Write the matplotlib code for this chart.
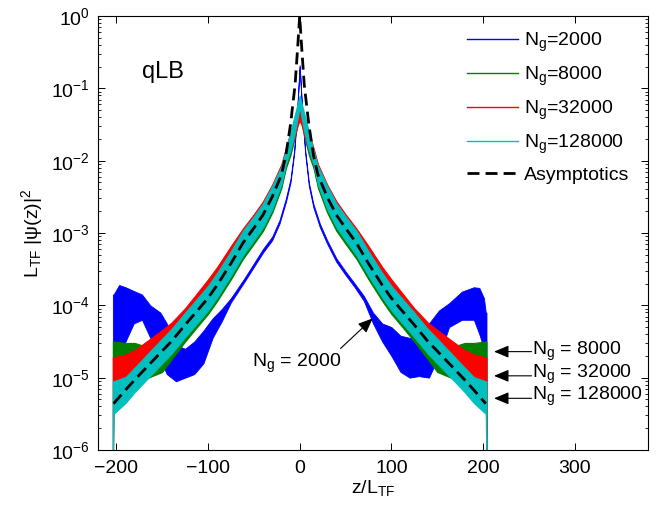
#!/usr/bin/env python3
"""Density profiles L_TF |psi(z)|^2 for several grid sizes N_g (qLB), log scale."""

import matplotlib

matplotlib.use("Agg")
import matplotlib.pyplot as plt
from matplotlib.lines import Line2D
from matplotlib.ticker import NullLocator

# ---- data (band = lower / upper envelope of the noisy curve) ----
z_grid = [-203.8, -203, -190, -180, -165, -150, -140, -125, -110, -100, -90, -75, -62, -50,
          -40, -30, -20, -15, -10, -5, -2, 0, 2, 5, 10, 15, 20, 30, 40, 50, 62, 75, 90, 100,
          110, 125, 140, 150, 165, 180, 190, 203, 203.8]

cyan_hi = [8.91e-6, 8.91e-6, 1.02e-5, 1.38e-5, 2.19e-5, 3.47e-5, 4.68e-5, 7.94e-5, 1.32e-4,
           1.86e-4, 2.82e-4, 5.62e-4, 1.07e-3, 1.70e-3, 2.57e-3, 4.47e-3, 8.32e-3, 0.0141,
           0.0251, 0.0447, 0.0631, 0.0794, 0.0631, 0.0447, 0.0251, 0.0141, 8.32e-3, 4.47e-3,
           2.57e-3, 1.70e-3, 1.07e-3, 5.62e-4, 2.82e-4, 1.86e-4, 1.32e-4, 7.94e-5, 4.68e-5,
           3.47e-5, 2.19e-5, 1.38e-5, 1.02e-5, 8.91e-6, 8.91e-6]
cyan_lo = [5e-7, 3.16e-6, 4.47e-6, 6.31e-6, 1.00e-5, 1.58e-5, 2.14e-5, 3.63e-5, 6.03e-5,
           8.51e-5, 1.29e-4, 2.57e-4, 4.90e-4, 7.94e-4, 1.20e-3, 2.14e-3, 4.68e-3, 8.91e-3,
           0.0141, 0.0251, 0.0398, 0.0562, 0.0398, 0.0251, 0.0141, 8.91e-3, 4.68e-3, 2.14e-3,
           1.20e-3, 7.94e-4, 4.90e-4, 2.57e-4, 1.29e-4, 8.51e-5, 6.03e-5, 3.63e-5, 2.14e-5,
           1.58e-5, 1.00e-5, 6.31e-6, 4.47e-6, 3.16e-6, 5e-7]

red_hi = [1.91e-5, 1.91e-5, 2.09e-5, 2.40e-5, 3.31e-5, 4.57e-5, 5.75e-5, 9.12e-5, 1.58e-4,
          2.29e-4, 3.39e-4, 6.61e-4, 1.15e-3, 1.82e-3, 2.75e-3, 4.68e-3, 8.91e-3, 0.0151,
          0.0251, 0.0380, 0.0501, 0.0562, 0.0501, 0.0380, 0.0251, 0.0151, 8.91e-3, 4.68e-3,
          2.75e-3, 1.82e-3, 1.15e-3, 6.61e-4, 3.39e-4, 2.29e-4, 1.58e-4, 9.12e-5, 5.75e-5,
          4.57e-5, 3.31e-5, 2.40e-5, 2.09e-5, 1.91e-5, 1.91e-5]
red_lo = [5e-7, 8.32e-6, 9.55e-6, 1.05e-5, 1.32e-5, 1.91e-5, 2.51e-5, 4.17e-5, 6.76e-5,
          9.55e-5, 1.45e-4, 2.88e-4, 5.50e-4, 8.91e-4, 1.35e-3, 2.40e-3, 5.01e-3, 8.91e-3,
          0.0141, 0.0224, 0.0316, 0.0355, 0.0316, 0.0224, 0.0141, 8.91e-3, 5.01e-3, 2.40e-3,
          1.35e-3, 8.91e-4, 5.50e-4, 2.88e-4, 1.45e-4, 9.55e-5, 6.76e-5, 4.17e-5, 2.51e-5,
          1.91e-5, 1.32e-5, 1.05e-5, 9.55e-6, 8.32e-6, 5e-7]

green_hi = [3.16e-5, 3.16e-5, 3.02e-5, 3.02e-5, 2.63e-5, 3.16e-5, 3.98e-5, 6.61e-5, 1.07e-4,
            1.51e-4, 2.29e-4, 4.57e-4, 8.71e-4, 1.41e-3, 2.14e-3, 3.80e-3, 7.59e-3, 0.0132,
            0.0224, 0.0380, 0.0525, 0.0631, 0.0525, 0.0380, 0.0224, 0.0132, 7.59e-3, 3.80e-3,
            2.14e-3, 1.41e-3, 8.71e-4, 4.57e-4, 2.29e-4, 1.51e-4, 1.07e-4, 6.61e-5, 3.98e-5,
            3.16e-5, 2.63e-5, 3.02e-5, 3.02e-5, 3.16e-5, 3.16e-5]
green_lo = [5e-7, 1.51e-5, 1.51e-5, 1.41e-5, 1.00e-5, 1.20e-5, 1.78e-5, 3.16e-5, 5.37e-5,
            7.59e-5, 1.15e-4, 2.29e-4, 4.37e-4, 7.08e-4, 1.07e-3, 1.91e-3, 4.17e-3, 7.94e-3,
            0.0120, 0.0219, 0.0331, 0.0398, 0.0331, 0.0219, 0.0120, 7.94e-3, 4.17e-3, 1.91e-3,
            1.07e-3, 7.08e-4, 4.37e-4, 2.29e-4, 1.15e-4, 7.59e-5, 5.37e-5, 3.16e-5, 1.78e-5,
            1.20e-5, 1.00e-5, 1.41e-5, 1.51e-5, 1.51e-5, 5e-7]

blue_z = [-203.8, -203, -197, -190, -181, -172, -163, -152, -145, -135, -125, -115, -105,
          -95, -85, -75, -60, -50, -40, -30, -22, -15, -10, -6, -3, 0, 3, 6, 10, 15, 22, 30,
          40, 50, 60, 70, 80, 90, 100, 110, 120, 130, 141, 152, 163, 177, 190, 196, 201, 203,
          203.8]
blue_hi = [1.41e-4, 1.41e-4, 1.91e-4, 1.78e-4, 1.58e-4, 1.41e-4, 1.00e-4, 7.94e-5, 5.62e-5,
           2.82e-5, 2.51e-5, 3.16e-5, 4.47e-5, 6.61e-5, 8.91e-5, 1.26e-4, 2.40e-4, 3.80e-4,
           6.03e-4, 8.91e-4, 1.51e-3, 3.02e-3, 5.62e-3, 0.0141, 0.0447, 0.209, 0.0447, 0.0141,
           5.01e-3, 2.51e-3, 1.35e-3, 7.94e-4, 4.47e-4, 2.95e-4, 2.00e-4, 1.35e-4, 7.94e-5,
           5.62e-5, 5.01e-5, 3.80e-5, 3.55e-5, 3.55e-5, 5.62e-5, 8.51e-5, 1.07e-4, 1.55e-4,
           1.78e-4, 1.74e-4, 1.26e-4, 7.94e-5, 7.94e-5]
blue_lo = [5e-7, 1.41e-5, 2.51e-5, 3.16e-5, 5.62e-5, 6.31e-5, 3.55e-5, 1.78e-5, 1.12e-5,
           8.91e-6, 1.00e-5, 1.12e-5, 1.58e-5, 3.55e-5, 6.03e-5, 1.10e-4, 2.14e-4, 3.39e-4,
           5.37e-4, 7.94e-4, 1.35e-3, 2.69e-3, 5.01e-3, 0.0126, 0.0398, 0.200, 0.0398, 0.0126,
           4.47e-3, 2.24e-3, 1.20e-3, 7.08e-4, 3.98e-4, 2.63e-4, 1.78e-4, 1.15e-4, 5.62e-5,
           3.16e-5, 2.00e-5, 1.20e-5, 1.00e-5, 1.05e-5, 1.00e-5, 2.00e-5, 5.01e-5, 6.31e-5,
           6.31e-5, 3.98e-5, 2.51e-5, 2.00e-5, 5e-7]

z_asym = [-203, -190, -180, -165, -150, -140, -125, -110, -100, -90, -75, -62, -50, -40, -30,
          -20, -15, -10, -5, -2, 0, 2, 5, 10, 15, 20, 30, 40, 50, 62, 75, 90, 100, 110, 125,
          140, 150, 165, 180, 190, 203]
asym = [4.37e-6, 6.76e-6, 9.33e-6, 1.48e-5, 2.34e-5, 3.16e-5, 5.37e-5, 8.91e-5, 1.26e-4,
        1.91e-4, 3.80e-4, 7.24e-4, 1.17e-3, 1.78e-3, 3.16e-3, 6.31e-3, 0.0120, 0.0316, 0.112,
        0.40, 1.0, 0.40, 0.112, 0.0316, 0.0120, 6.31e-3, 3.16e-3, 1.78e-3, 1.17e-3, 7.24e-4,
        3.80e-4, 1.91e-4, 1.26e-4, 8.91e-5, 5.37e-5, 3.16e-5, 2.34e-5, 1.48e-5, 9.33e-6,
        6.76e-6, 4.37e-6]

labels = [r"N$_\mathregular{g}$=2000", r"N$_\mathregular{g}$=8000",
          r"N$_\mathregular{g}$=32000", r"N$_\mathregular{g}$=128000", "Asymptotics"]
colors = ["#0000ff", "#008000", "#ff0000", "#00bfbf", "k"]

plt.rcParams.update({
    "font.family": ["Liberation Sans", "DejaVu Sans"],
    "mathtext.fontset": "custom",
    "mathtext.rm": "Liberation Sans",
    "mathtext.it": "Liberation Sans:italic",
    "mathtext.bf": "Liberation Sans:bold",
    "font.size": 14,
    "axes.linewidth": 0.8,
})

fig = plt.figure(figsize=(6.64, 5.08), dpi=100)
ax = fig.add_axes([0.1476, 0.1142, 0.8283, 0.8543])
ax.set_yscale("log")

bands = [
    (blue_z, blue_lo, blue_hi, 0.6),
    (z_grid, green_lo, green_hi, 0.8),
    (z_grid, red_lo, red_hi, 0.8),
    (z_grid, cyan_lo, cyan_hi, 0.8),
]
for (zz, lo, hi, lw), c in zip(bands, colors[:4]):
    ax.fill_between(zz, lo, hi, color=c, linewidth=lw)

dash = (0, (4.3, 2.2))
ax.plot(z_asym, asym, color="k", lw=2.0, linestyle=dash)

ax.set_xlim(-220, 380)
ax.set_ylim(1e-6, 1)
ax.set_xticks([-200, -100, 0, 100, 200, 300])
ax.xaxis.set_minor_locator(NullLocator())
ax.tick_params(which="both", direction="in", top=True, right=True, labelsize=14)
ax.tick_params(which="major", length=5, width=0.7)
ax.tick_params(which="minor", length=2.5, width=0.6)
ax.tick_params(axis="x", pad=7)
ax.tick_params(axis="y", pad=6)

ax.set_xlabel(r"z/L$_\mathregular{TF}$", fontsize=14, labelpad=1)
ax.set_ylabel(r"L$_\mathregular{TF}$ |ψ(z)|$^\mathregular{2}$", fontsize=14, labelpad=4)

ax.text(-172, 0.139, "qLB", fontsize=17, ha="left", va="baseline")

handles = [Line2D([], [], color=c, lw=1.0) for c in colors[:4]]
handles.append(Line2D([], [], color="k", lw=2.0, linestyle=dash))
ax.legend(handles, labels, loc="upper left", bbox_to_anchor=(0.671, 0.966), frameon=False,
          borderpad=0, borderaxespad=0, handlelength=2.6, handletextpad=0.35,
          labelspacing=0.55, fontsize=14)

arrow = dict(arrowstyle="-|>,head_length=0.6,head_width=0.25", color="k", lw=0.8,
             mutation_scale=15, shrinkA=0, shrinkB=0)
ax.text(-52, 1.39e-5, r"N$_\mathregular{g}$ = 2000", fontsize=14, ha="left", va="baseline")
ax.annotate("", xy=(79.7, 6.61e-5), xytext=(44.6, 2.53e-5), arrowprops=arrow)

for lab, y_arrow, y_text in [("8000", 2.29e-5, 2.06e-5),
                             ("32000", 1.06e-5, 9.8e-6),
                             ("128000", 5.18e-6, 4.91e-6)]:
    ax.annotate("", xy=(212, y_arrow), xytext=(253, y_arrow), arrowprops=arrow)
    ax.text(253.5, y_text, r"N$_\mathregular{g}$ = " + lab, fontsize=14, ha="left",
            va="baseline")

fig.savefig("out.png", dpi=100)
